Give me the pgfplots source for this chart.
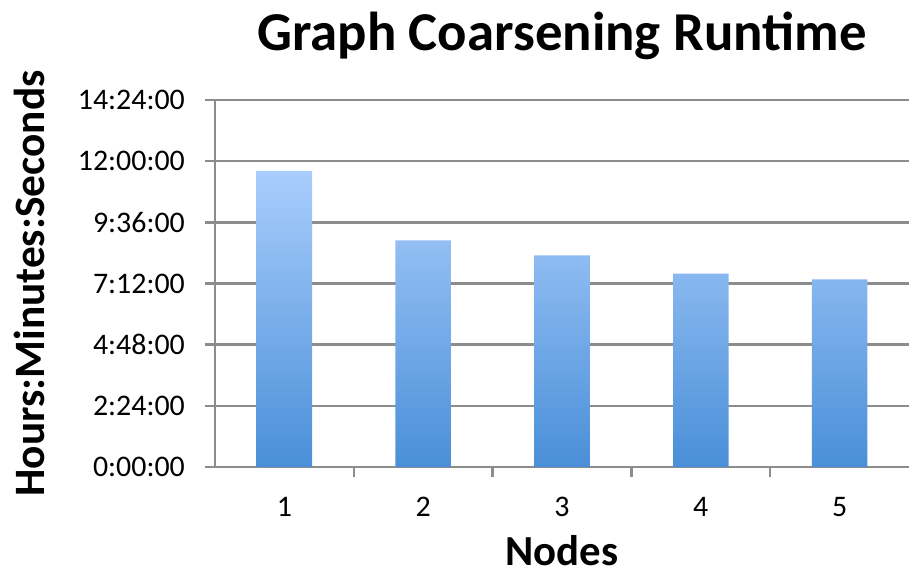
\documentclass[border=0pt]{standalone}
\usepackage{pgfplots}
\pgfplotsset{compat=1.18}
\usepackage{fontspec}
\setmainfont{Carlito}
\definecolor{gridgray}{HTML}{8C8C8C}
\definecolor{bartop}{HTML}{A9CDFC}
\definecolor{barbot}{HTML}{4A8FD8}
\begin{document}
\begin{tikzpicture}
\path[use as bounding box] (-215bp,-106bp) rectangle (694bp,467bp);
\begin{axis}[
  at={(0,0)}, anchor=south west,
  scale only axis, width=694bp, height=367bp,
  xmin=0.5, xmax=5.5, ymin=0, ymax=14.4,
  axis x line=bottom, axis y line=left,
  axis line style={-, draw=gridgray, line width=2.5bp},
  ytick={0,2.4,4.8,7.2,9.6,12,14.4},
  yticklabels={0:00:00,2:24:00,4:48:00,7:12:00,9:36:00,12:00:00,14:24:00},
  xtick={1,2,3,4,5},
  xticklabels={1,2,3,4,5},
  minor xtick={1.5,2.5,3.5,4.5},
  ymajorgrids,
  grid style={draw=gridgray, line width=2.5bp},
  tick align=outside,
  major tick length=10bp, minor tick length=10bp,
  tick style={draw=gridgray, line width=2.5bp},
  major x tick style={draw=none},
  ticklabel style={font=\fontsize{30}{34}\selectfont, text=black},
  yticklabel style={anchor=east, inner sep=0pt, xshift=-20bp},
  xticklabel style={anchor=base, inner sep=0pt, yshift=-39bp},
  title={Graph Coarsening Runtime},
  title style={font=\bfseries\fontsize{55}{60}\selectfont, anchor=base, at={(axis description cs:0.5,1)}, yshift=44bp, inner sep=0pt},
  xlabel={Nodes},
  xlabel style={font=\bfseries\fontsize{43}{48}\selectfont, anchor=base, at={(axis description cs:0.5,0)}, yshift=-98bp, inner sep=0pt},
  ylabel={Hours:Minutes:Seconds},
  ylabel style={font=\bfseries\fontsize{43.5}{48}\selectfont, anchor=base, at={(axis description cs:-0.245,0.5)}, inner sep=0pt},
]
\addplot[ybar, bar width=0.4, draw=none, top color=bartop, bottom color=barbot]
  coordinates {(1,11.62) (2,8.89) (3,8.30) (4,7.59) (5,7.36)};
\end{axis}
\end{tikzpicture}
\end{document}
